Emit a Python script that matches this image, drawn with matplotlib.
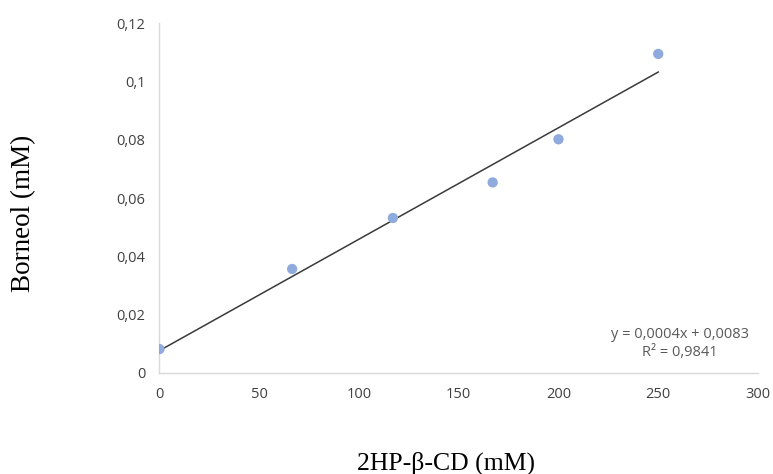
import numpy as np
import matplotlib
matplotlib.use("Agg")
from matplotlib import pyplot as plt
from matplotlib.ticker import FuncFormatter

# 2HP-beta-CD concentration (mM) and dissolved borneol (mM)
cd_conc = [0, 66.5, 117, 167, 200, 250]
borneol = [0.0082, 0.0357, 0.0532, 0.0654, 0.0802, 0.1095]

x_ticks = [0, 50, 100, 150, 200, 250, 300]
y_ticks = [0, 0.02, 0.04, 0.06, 0.08, 0.10, 0.12]

eq_text = "y = 0,0004x + 0,0083"
r2_text = "R² = 0,9841"

# linear trendline over the data range
slope, icpt = np.polyfit(cd_conc, borneol, 1)
xfit = np.array([min(cd_conc), max(cd_conc)])

fig = plt.figure(figsize=(7.73, 4.74), dpi=100)
ax = fig.add_axes([0.2063, 0.2131, 0.7743, 0.7377])

ax.scatter(cd_conc, borneol, s=55, color="#8faadc", edgecolors="none", zorder=3)
ax.plot(xfit, slope*xfit + icpt, color="#3a3a3a", lw=1.1, zorder=2)

ax.set_xlim(0, 300)
ax.set_ylim(0, 0.12)
ax.set_xticks(x_ticks)
ax.set_yticks(y_ticks)

comma = FuncFormatter(lambda v, p: ("%g" % round(v, 4)).replace(".", ","))
ax.xaxis.set_major_formatter(comma)
ax.yaxis.set_major_formatter(comma)

for s in ["top", "right"]:
    ax.spines[s].set_visible(False)
for s in ["left", "bottom"]:
    ax.spines[s].set_color("#d9d9d9")
    ax.spines[s].set_linewidth(1.0)

ax.tick_params(length=0, labelsize=10.5, labelcolor="#404040", pad=10)
for lab in ax.get_xticklabels() + ax.get_yticklabels():
    lab.set_family("Open Sans")

# trendline equation, bottom right
ax.text(261, 0.0101, eq_text + "\n" + r2_text, ha="center", va="center",
        fontsize=10.5, color="#595959", family="Open Sans", linespacing=1.2)

fig.text(0.577, 0.023, "2HP-β-CD (mM)", ha="center", va="center",
         fontsize=18.5, family="Liberation Serif")
fig.text(0.03, 0.55, "Borneol (mM)", ha="center", va="center", rotation=90,
         fontsize=19.5, family="Liberation Serif")

fig.savefig("out.png", dpi=100)
